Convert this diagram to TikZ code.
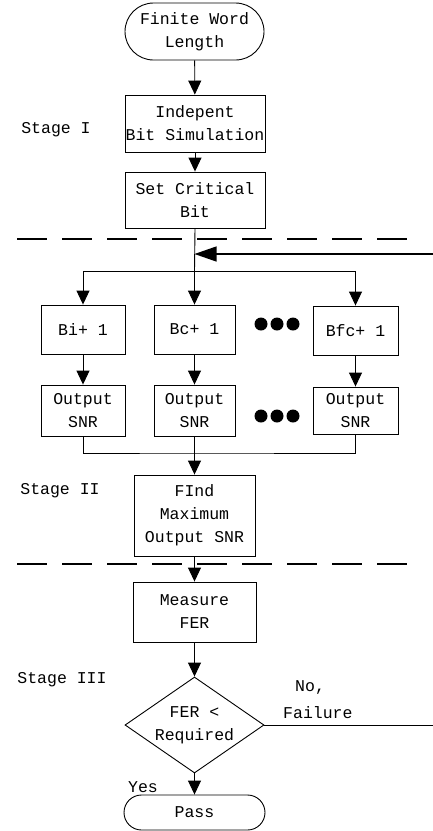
\documentclass[tikz,border=0pt]{standalone}
\usepackage{fontspec}
\setmainfont{Liberation Mono}
\usetikzlibrary{arrows.meta,shapes.misc,shapes.geometric}
\begin{document}
\begin{tikzpicture}[x=1pt,y=-1pt,
  every node/.style={font=\fontsize{16.5}{23}\selectfont, inner sep=0pt, align=center},
  box/.style={draw, line width=0.9pt, rectangle},
  term/.style={draw, line width=0.9pt, rounded rectangle},
  flow/.style={line width=0.9pt, -{Triangle[length=14pt,width=13pt]}},
  plain/.style={line width=0.9pt},
  sep/.style={line width=1.2pt, dash pattern=on 30pt off 15pt},
  dot/.style={circle, fill, minimum size=13pt}]
\useasboundingbox (0,0) rectangle (433,831);

% nodes
\node[term, minimum width=139pt, minimum height=57pt] (start) at (194.5,31.5) {Finite Word\\Length};
\node[box, minimum width=140pt, minimum height=57pt] (ibs) at (195,123.5) {Indepent\\Bit Simulation};
\node[box, minimum width=140pt, minimum height=56pt] (scb) at (195,200) {Set Critical\\Bit};

\node[box, minimum width=84pt, minimum height=49pt] (bi) at (83,329.5) {Bi+ 1};
\node[box, minimum width=81pt, minimum height=49pt] (bc) at (194.5,329.5) {Bc+ 1};
\node[box, minimum width=85pt, minimum height=49pt] (bfc) at (355.5,330.5) {Bfc+ 1};

\node[box, minimum width=84pt, minimum height=51pt] (o1) at (83,410.5) {Output\\SNR};
\node[box, minimum width=81pt, minimum height=51pt] (o2) at (194.5,410.5) {Output\\SNR};
\node[box, minimum width=85pt, minimum height=47pt] (o3) at (355.5,410.5) {Output\\SNR};

\node[box, minimum width=121pt, minimum height=81pt] (find) at (194.5,515.5) {FInd\\Maximum\\Output SNR};
\node[box, minimum width=123pt, minimum height=60pt] (meas) at (194.5,612) {Measure\\FER};
\node[diamond, draw, line width=0.9pt, minimum width=139pt, minimum height=96pt] (dec) at (194.5,725) {};
\node (dectext) at (dec.center) {FER <\\Required};
\node[term, minimum width=141pt, minimum height=35pt] (pass) at (194.5,812.5) {Pass};

% dots
\node[dot] (d1) at (261,324) {};
\node[dot] (d2) at (277,324) {};
\node[dot] (d3) at (293,324) {};
\node[dot] (d4) at (261,416) {};
\node[dot] (d5) at (277,416) {};
\node[dot] (d6) at (293,416) {};

% labels
\node (s1) at (56,130) {Stage I};
\node (s2) at (60,491) {Stage II};
\node (s3) at (62,680) {Stage III};
\node[anchor=west] (no) at (295,688) {No,};
\node[anchor=west] (fail) at (283,713) {Failure};
\node (yes) at (143,787) {Yes};

% coordinates
\coordinate (split) at (194.5,271);
\coordinate (merge) at (194.5,453);
\coordinate (feed) at (433,254);
\coordinate (feedhit) at (194.5,254);
\coordinate (failend) at (433,725);

% separators
\draw[sep] (17,239) -- (407,239);
\draw[sep] (17,564) -- (407,564);

% connectors
\draw[flow] (start) -- (ibs);
\draw[flow] (ibs) -- (scb);
\draw[plain] (scb.south) -- (split);
\draw[line width=1.3pt, -{Triangle[length=22pt,width=15pt]}] (feed) -- (feedhit);
\draw[flow] (split) -| (bi.north);
\draw[flow] (split) -| (bfc.north);
\draw[flow] (split) -- (bc.north);
\draw[flow] (bi) -- (o1);
\draw[flow] (bc) -- (o2);
\draw[flow] (bfc) -- (o3);
\draw[plain] (o1.south) |- (merge) -| (o3.south);
\draw[flow] (o2.south) -- (find.north);
\draw[flow] (find) -- (meas);
\draw[flow] (meas) -- (dec.north);
\draw[plain] (dec.east) -- (failend);
\draw[flow] (dec.south) -- (pass.north);
\end{tikzpicture}
\end{document}
